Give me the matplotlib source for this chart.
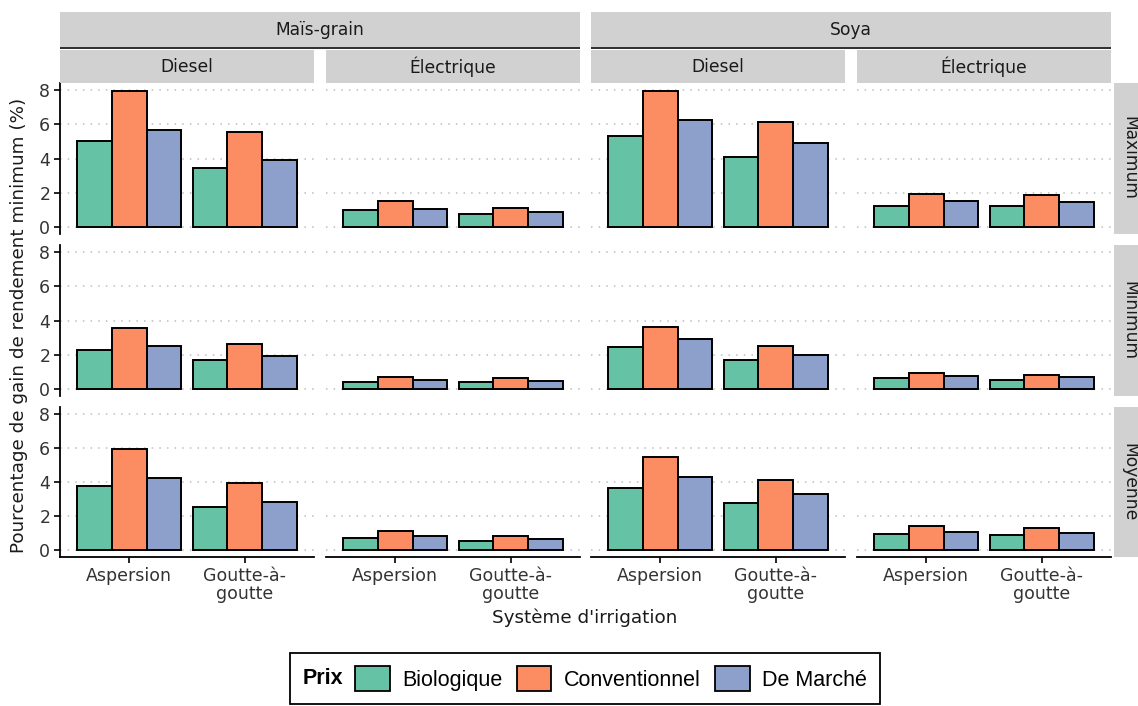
import matplotlib
matplotlib.use("Agg")
import matplotlib.pyplot as plt
from matplotlib.patches import Patch, Rectangle
from matplotlib.offsetbox import HPacker

W, H = 1138, 706

cultures = ["Maïs-grain", "Soya"]
energies = ["Diesel", "Électrique"]
scenarios = ["Maximum", "Minimum", "Moyenne"]
systemes = ["Aspersion", "Goutte-à-\ngoutte"]
prix = ["Biologique", "Conventionnel", "De Marché"]
couleurs = ["#66c2a5", "#fc8d62", "#8da0cb"]

# each list: [Aspersion, Goutte-a-goutte] x [Biologique, Conventionnel, De Marche]
mais_diesel_max = [[5.01, 7.94, 5.66], [3.47, 5.52, 3.93]]
mais_elec_max = [[0.98, 1.52, 1.08], [0.78, 1.13, 0.86]]
soya_diesel_max = [[5.31, 7.94, 6.26], [4.10, 6.15, 4.90]]
soya_elec_max = [[1.25, 1.91, 1.50], [1.23, 1.89, 1.48]]

mais_diesel_min = [[2.30, 3.55, 2.54], [1.70, 2.63, 1.91]]
mais_elec_min = [[0.43, 0.72, 0.55], [0.39, 0.62, 0.45]]
soya_diesel_min = [[2.44, 3.65, 2.91], [1.68, 2.52, 1.99]]
soya_elec_min = [[0.62, 0.94, 0.76], [0.55, 0.84, 0.68]]

mais_diesel_moy = [[3.75, 5.91, 4.21], [2.52, 3.96, 2.81]]
mais_elec_moy = [[0.74, 1.13, 0.86], [0.53, 0.86, 0.64]]
soya_diesel_moy = [[3.67, 5.44, 4.31], [2.77, 4.14, 3.28]]
soya_elec_moy = [[0.94, 1.39, 1.05], [0.88, 1.31, 1.03]]

grille = [
    [mais_diesel_max, mais_elec_max, soya_diesel_max, soya_elec_max],
    [mais_diesel_min, mais_elec_min, soya_diesel_min, soya_elec_min],
    [mais_diesel_moy, mais_elec_moy, soya_diesel_moy, soya_elec_moy],
]

plt.rcParams["font.family"] = ["DejaVu Sans"]

col_x = [(60, 314), (326, 580), (591, 845), (857, 1111)]
row_y = [(83, 234), (245, 396), (407, 557)]
strip_gris = "#d1d1d1"


def rect_fig(x0, y0, x1, y1):
    return [x0 / W, 1 - y1 / H, (x1 - x0) / W, (y1 - y0) / H]


def boite(x0, y0, x1, y1, **kw):
    r = Rectangle((x0 / W, 1 - y1 / H), (x1 - x0) / W, (y1 - y0) / H,
                  transform=fig.transFigure, **kw)
    fig.add_artist(r)


fig = plt.figure(figsize=(W / 100, H / 100), dpi=100)

for r, (y0, y1) in enumerate(row_y):
    for c, (x0, x1) in enumerate(col_x):
        ax = fig.add_axes(rect_fig(x0, y0, x1, y1))
        vals = grille[r][c]
        for j in range(3):
            xs = [i + 1 + (j - 1) * 0.3 for i in range(2)]
            hs = [vals[i][j] for i in range(2)]
            ax.bar(xs, hs, width=0.3, color=couleurs[j], edgecolor="black",
                   linewidth=1.4, zorder=3)
        ax.set_xlim(0.4, 2.6)
        ax.set_ylim(-0.4, 8.4)
        ax.set_yticks([0, 2, 4, 6, 8])
        ax.set_xticks([1, 2])
        ax.set_xticklabels(systemes, fontsize=12.5, color="#333333",
                           linespacing=1.0)
        ax.yaxis.grid(True, linestyle=(0, (1, 4)), color="#bdbdbd", lw=1.1)
        ax.set_axisbelow(True)
        for s in ax.spines.values():
            s.set_visible(False)
        if c == 0:
            ax.spines["left"].set_visible(True)
            ax.spines["left"].set_linewidth(1.3)
        if r == 2:
            ax.spines["bottom"].set_visible(True)
            ax.spines["bottom"].set_linewidth(1.3)
        ax.tick_params(axis="y", left=(c == 0), labelleft=(c == 0),
                       length=4, width=1.2, labelsize=12.5,
                       labelcolor="#333333", pad=3)
        ax.tick_params(axis="x", bottom=(r == 2), labelbottom=(r == 2),
                       length=4, width=1.2, pad=3)

# top strips (culture)
for k, nom in enumerate(cultures):
    xa = col_x[2 * k][0]
    xb = col_x[2 * k + 1][1]
    boite(xa, 12, xb, 47, facecolor=strip_gris, edgecolor="none")
    boite(xa, 47, xb, 49, facecolor="#333333", edgecolor="none")
    fig.text((xa + xb) / 2 / W, 1 - 30 / H, nom, ha="center", va="center",
             fontsize=12.3, color="#1a1a1a")

# second strips (energie)
for c, (x0, x1) in enumerate(col_x):
    boite(x0, 50, x1, 83, facecolor=strip_gris, edgecolor="none")
    fig.text((x0 + x1) / 2 / W, 1 - 67 / H, energies[c % 2], ha="center",
             va="center", fontsize=12.3, color="#1a1a1a")

# right strips (scenario)
for r, (y0, y1) in enumerate(row_y):
    boite(1114, y0, 1150, y1, facecolor=strip_gris, edgecolor="none")
    fig.text(1129 / W, 1 - (y0 + y1) / 2 / H, scenarios[r], ha="center",
             va="center", rotation=-90, fontsize=12.3, color="#1a1a1a")

fig.text(585 / W, 1 - 618 / H, "Système d'irrigation", ha="center",
         va="center", fontsize=13.2, color="#1a1a1a")
fig.text(19 / W, 1 - 325 / H, "Pourcentage de gain de rendement minimum (%)",
         ha="center", va="center", rotation=90, fontsize=13.2,
         color="#1a1a1a")

handles = [Patch(facecolor=col, edgecolor="black", linewidth=1.3)
           for col in couleurs]
leg = fig.legend(handles, prix, loc="upper center",
                 bbox_to_anchor=(585 / W, 1 - 653 / H), ncol=3,
                 frameon=True, fancybox=False, edgecolor="black",
                 framealpha=1, title="Prix",
                 prop=dict(family="Liberation Sans", size=15.5),
                 title_fontproperties=dict(family="Liberation Sans",
                                           weight="bold", size=15.5),
                 handlelength=1.6, handleheight=1.4, columnspacing=0.65,
                 handletextpad=0.6, borderpad=0.6, borderaxespad=0)
leg.get_frame().set_linewidth(1.3)
# put the title on the left of the keys, as ggplot does
fs = leg._fontsize
leg._legend_box = HPacker(pad=leg.borderpad * fs, sep=0.56 * fs,
                          align="center",
                          children=[leg._legend_title_box,
                                    leg._legend_handle_box])
leg._legend_box.set_figure(fig)
leg._legend_box.set_offset(leg._findoffset)

fig.savefig("out.png", dpi=100)
